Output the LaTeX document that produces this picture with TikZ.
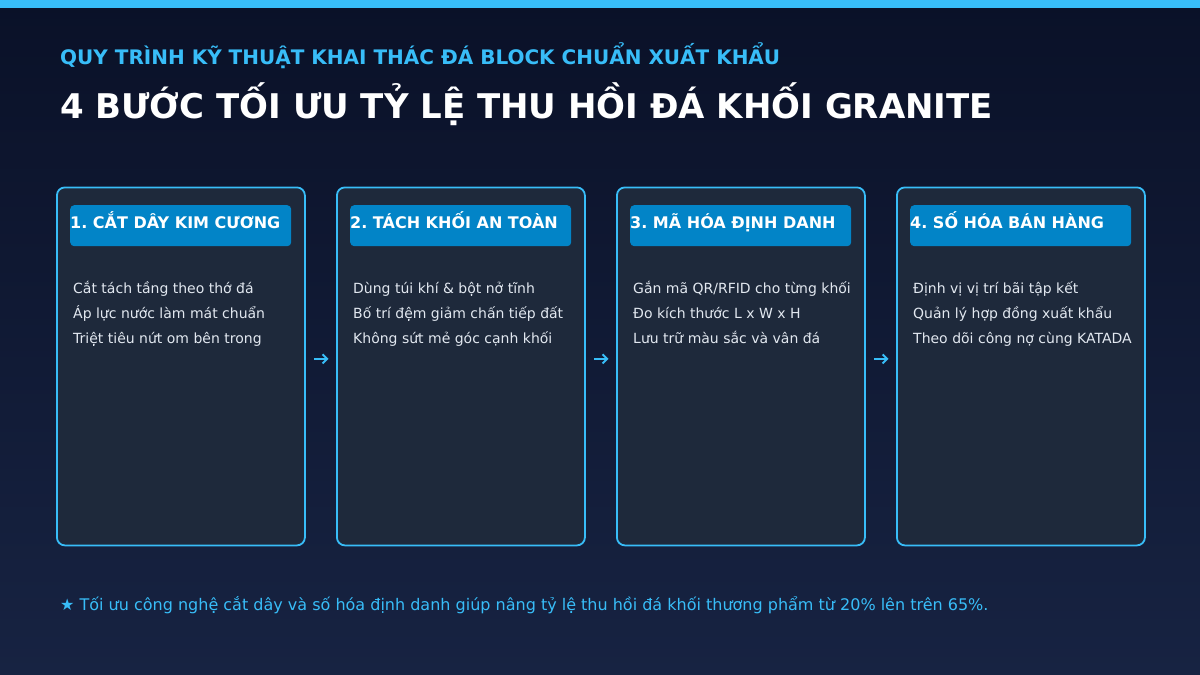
\documentclass[tikz,border=0pt]{standalone}
\usepackage{fontspec}
\setmainfont{DejaVu Sans}
\usetikzlibrary{arrows.meta}
\frenchspacing
\definecolor{bgtop}{HTML}{0A1128}
\definecolor{bgbot}{HTML}{172342}
\definecolor{accent}{HTML}{38BDF8}
\definecolor{cardfill}{HTML}{1E293B}
\definecolor{hdrfill}{HTML}{0284C7}
\definecolor{bodytxt}{HTML}{E2E8F0}
\tikzset{
  card/.style={draw=accent, line width=1.8pt, fill=cardfill, rounded corners=8pt,
    minimum width=248pt, minimum height=358pt, anchor=north west, inner sep=0pt},
  hdrbox/.style={fill=hdrfill, rounded corners=4pt, minimum width=221pt,
    minimum height=41pt, anchor=north west, inner sep=0pt},
  hdrtxt/.style={text=white, font=\bfseries\fontsize{16}{18}\selectfont, anchor=base west, inner sep=0pt},
  bodyline/.style={text=bodytxt, font=\fontsize{14}{16}\selectfont, anchor=base west, inner sep=0pt},
  flowarrow/.style={draw=accent, line width=2pt, -{Straight Barb[length=4.5pt,width=9pt]},
    shorten <=8.5pt, shorten >=7.5pt},
}
\begin{document}
\begin{tikzpicture}[x=1pt,y=-1pt]
\useasboundingbox (0,0) rectangle (1200,675);
\shade[top color=bgtop, bottom color=bgbot] (0,0) rectangle (1200,675);
\fill[accent] (0,0) rectangle (1200,8);
\node[text=accent, font=\bfseries\fontsize{20}{24}\selectfont, anchor=base west, inner sep=0pt] (sub) at (60,64) {QUY TRÌNH KỸ THUẬT KHAI THÁC ĐÁ BLOCK CHUẨN XUẤT KHẨU};
\node[text=white, font=\bfseries\fontsize{34}{38}\selectfont, anchor=base west, inner sep=0pt] (title) at (60,118) {4 BƯỚC TỐI ƯU TỶ LỆ THU HỒI ĐÁ KHỐI GRANITE};
\foreach \i/\h/\a/\b/\c in {
  0/{1. CẮT DÂY KIM CƯƠNG}/{Cắt tách tầng theo thớ đá}/{Áp lực nước làm mát chuẩn}/{Triệt tiêu nứt om bên trong},
  1/{2. TÁCH KHỐI AN TOÀN}/{Dùng túi khí \& bột nở tĩnh}/{Bố trí đệm giảm chấn tiếp đất}/{Không sứt mẻ góc cạnh khối},
  2/{3. MÃ HÓA ĐỊNH DANH}/{Gắn mã QR/RFID cho từng khối}/{Đo kích thước L x W x H}/{Lưu trữ màu sắc và vân đá},
  3/{4. SỐ HÓA BÁN HÀNG}/{Định vị vị trí bãi tập kết}/{Quản lý hợp đồng xuất khẩu}/{Theo dõi công nợ cùng KATADA}} {
  \pgfmathsetmacro{\xo}{56+280*\i}
  \node[card] (c\i) at (\xo,186.5) {};
  \node[hdrbox] (h\i) at (\xo+14,205) {};
  \node[hdrtxt] (ht\i) at (\xo+14,228) {\h};
  \node[bodyline] (la\i) at (\xo+17,293) {\a};
  \node[bodyline] (lb\i) at (\xo+17,318) {\b};
  \node[bodyline] (lc\i) at (\xo+17,343) {\c};
}
\foreach \i/\j in {0/1,1/2,2/3} {
  \draw[flowarrow] ([yshift=7.5pt]c\i.east) -- ([yshift=7.5pt]c\j.west);
}
\node[text=accent, font=\fontsize{16}{20}\selectfont, anchor=base west, inner sep=0pt] (foot) at (60,610) {★ Tối ưu công nghệ cắt dây và số hóa định danh giúp nâng tỷ lệ thu hồi đá khối thương phẩm từ 20\% lên trên 65\%.};
\end{tikzpicture}
\end{document}
